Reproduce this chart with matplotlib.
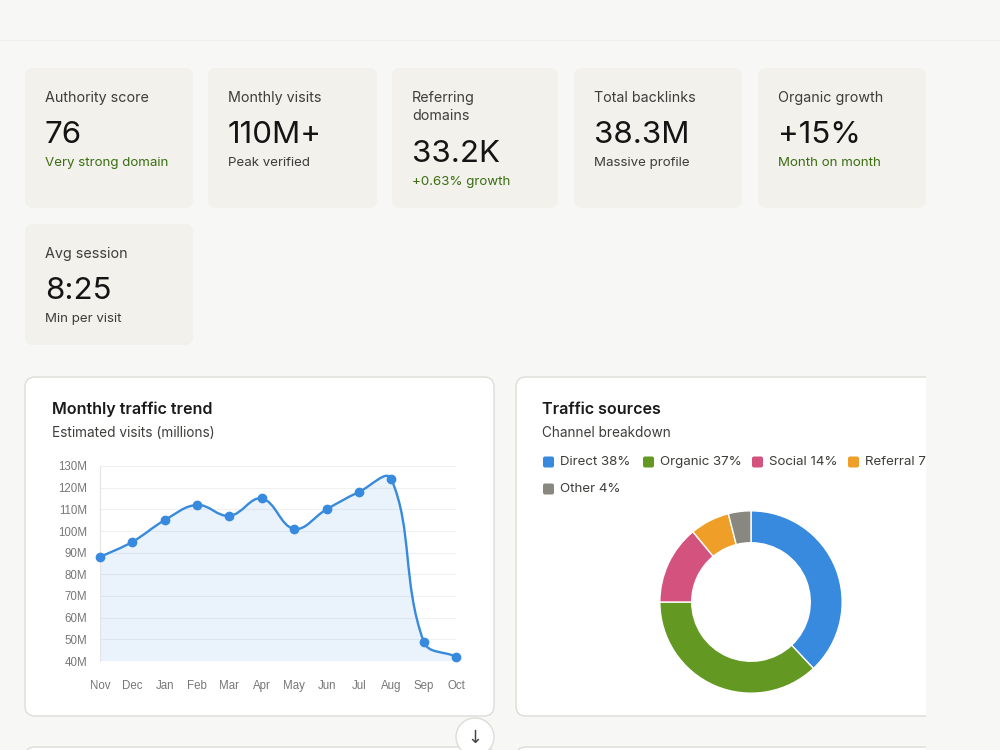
import numpy as np
import matplotlib
matplotlib.use("Agg")
import matplotlib.pyplot as plt
from matplotlib.patches import FancyBboxPatch, Rectangle, Circle, PathPatch
from matplotlib.path import Path

plt.rcParams['font.family'] = ['Inter', 'DejaVu Sans']

# ---- data ----
kpi_titles = ["Authority score", "Monthly visits", "Referring\ndomains", "Total backlinks",
              "Organic growth", "Avg session"]
kpi_values = ["76", "110M+", "33.2K", "38.3M", "+15%", "8:25"]
kpi_notes = ["Very strong domain", "Peak verified", "+0.63% growth", "Massive profile",
             "Month on month", "Min per visit"]
kpi_good = [True, False, True, False, True, False]

months = ["Nov", "Dec", "Jan", "Feb", "Mar", "Apr", "May", "Jun", "Jul", "Aug", "Sep", "Oct"]
visits = [88, 95, 105, 112, 107, 115, 101, 110, 118, 124, 49, 42]   # millions
y_ticks = [40, 50, 60, 70, 80, 90, 100, 110, 120, 130]

channels = ["Direct", "Organic", "Social", "Referral", "Other"]
shares = [38, 37, 14, 7, 4]
chan_colors = ["#378ADD", "#639922", "#D4537E", "#EF9F27", "#888780"]

BG = "#f7f7f5"
CARD = "#f2f1ec"
GREEN = "#3b6d11"
BLUE = "#378ADD"

fig = plt.figure(figsize=(10, 7.5), dpi=100, facecolor=BG)
bg = fig.add_axes([0, 0, 1, 1])
bg.set_xlim(0, 1000)
bg.set_ylim(750, 0)
bg.axis("off")
bg.set_facecolor(BG)

# viewport clip (content cut at the right)
clip = Rectangle((0, 0), 926, 750, transform=bg.transData, visible=False)
bg.add_patch(clip)

bg.plot([0, 1000], [40, 40], color="#efefeb", lw=0.8)


def card(x0, y0, x1, y1, fc, ec="none", r=8, lw=0.0):
    p = FancyBboxPatch((x0, y0), x1 - x0, y1 - y0, boxstyle=f"round,pad=0,rounding_size={r}",
                       fc=fc, ec=ec, lw=lw, transform=bg.transData)
    bg.add_patch(p)
    p.set_clip_path(clip)
    return p


# ---- KPI cards ----
card_x = [(25, 193), (208, 377), (392, 558), (574, 742), (758, 926), (25, 193)]
card_y = [(68, 208)] * 5 + [(224, 345)]
for i in range(6):
    (x0, x1), (y0, y1) = card_x[i], card_y[i]
    card(x0, y0, x1, y1, CARD)
    tx = x0 + 20
    shift = 19 if "\n" in kpi_titles[i] else 0
    bg.text(tx, y0 + 23, kpi_titles[i], fontsize=10.3, color="#3d3d3a", va="top",
            linespacing=1.4)
    bg.text(tx, y0 + 67 + shift, kpi_values[i], fontsize=22.5, color="#141414", va="center")
    bg.text(tx, y0 + 95 + shift, kpi_notes[i], fontsize=9.6, va="center",
            color=GREEN if kpi_good[i] else "#3d3d3a")

# ---- chart cards ----
card(25, 377, 494, 716, "white", ec="#dcdcd8", r=10, lw=1.0)
card(516, 377, 960, 716, "white", ec="#dcdcd8", r=10, lw=1.0)
card(25, 747, 494, 800, "white", ec="#dcdcd8", r=10, lw=1.0)
card(516, 747, 960, 800, "white", ec="#dcdcd8", r=10, lw=1.0)

bg.text(52, 409, "Monthly traffic trend", fontsize=11.6, fontweight="semibold",
        color="#1a1a1a", va="center")
bg.text(52, 433, "Estimated visits (millions)", fontsize=9.8, color="#3d3d3a", va="center")
bg.text(542, 409, "Traffic sources", fontsize=11.6, fontweight="semibold",
        color="#1a1a1a", va="center")
bg.text(542, 433, "Channel breakdown", fontsize=9.8, color="#3d3d3a", va="center")

# legend
leg_pos = [(543, 462), (643, 462), (752, 462), (848, 462), (543, 489)]
for (lx, ly), name, val, c in zip(leg_pos, channels, shares, chan_colors):
    sq = FancyBboxPatch((lx, ly - 5.5), 11, 11, boxstyle="round,pad=0,rounding_size=2",
                        fc=c, ec="none", transform=bg.transData)
    bg.add_patch(sq)
    t = bg.text(lx + 17, ly, f"{name} {val}%", fontsize=9.6, color="#3d3d3a", va="center",
                clip_on=True)
    t.set_clip_path(clip)

# ---- line chart ----
ax = fig.add_axes([100 / 1000, 1 - 661 / 750, 356 / 1000, 195 / 750])
ax.set_xlim(0, len(months) - 1)
ax.set_ylim(40, 130)
ax.set_facecolor("none")
for s in ["top", "right", "bottom"]:
    ax.spines[s].set_visible(False)
ax.spines["left"].set_color("#e4e4e4")
ax.set_yticks(y_ticks)
ax.set_yticklabels([f"{v}M" for v in y_ticks])
ax.set_xticks(range(len(months)))
ax.set_xticklabels(months)
ax.tick_params(axis="y", length=0, pad=9, labelsize=8.3, labelcolor="#777777")
ax.tick_params(axis="x", length=0, pad=14, labelsize=8.3, labelcolor="#777777")
for lab in ax.get_xticklabels() + ax.get_yticklabels():
    lab.set_fontfamily(["Liberation Sans", "DejaVu Sans"])
ax.grid(axis="y", color="#f0f0f0", lw=0.8)
ax.set_axisbelow(True)

# Chart.js style spline (tension 0.4) computed in screen space
pts = ax.transData.transform(np.column_stack([np.arange(len(visits)), visits]))
n = len(pts)
cp_prev = np.zeros_like(pts)
cp_next = np.zeros_like(pts)
t = 0.4
for i in range(n):
    prv = pts[i - 1] if i > 0 else pts[i]
    cur = pts[i]
    nxt = pts[i + 1] if i < n - 1 else pts[i]
    d01 = np.hypot(*(cur - prv))
    d12 = np.hypot(*(nxt - cur))
    tot = d01 + d12
    s01 = d01 / tot if tot else 0
    s12 = d12 / tot if tot else 0
    cp_prev[i] = cur - t * s01 * (nxt - prv)
    cp_next[i] = cur + t * s12 * (nxt - prv)
inv = ax.transData.inverted()
pts_d = inv.transform(pts)
cpp_d = inv.transform(cp_prev)
cpn_d = inv.transform(cp_next)
cpp_d[:, 1] = np.clip(cpp_d[:, 1], 40, 130)
cpn_d[:, 1] = np.clip(cpn_d[:, 1], 40, 130)

verts = [pts_d[0]]
codes = [Path.MOVETO]
for i in range(n - 1):
    verts += [cpn_d[i], cpp_d[i + 1], pts_d[i + 1]]
    codes += [Path.CURVE4] * 3
line_path = Path(verts, codes)
fill_path = Path(verts + [(n - 1, 40), (0, 40), pts_d[0]],
                 codes + [Path.LINETO, Path.LINETO, Path.CLOSEPOLY])
ax.add_patch(PathPatch(fill_path, fc=BLUE, alpha=0.1, ec="none"))
ax.add_patch(PathPatch(line_path, fc="none", ec=BLUE, lw=1.7, clip_on=False))
ax.plot(range(n), visits, "o", color=BLUE, ms=6, clip_on=False, zorder=5)

# ---- donut ----
cx, cy, r = 751, 602, 93
dax = fig.add_axes([(cx - r) / 1000, 1 - (cy + r) / 750, 2 * r / 1000, 2 * r / 750])
dax.pie(shares, colors=chan_colors, startangle=90, counterclock=False, radius=1,
        wedgeprops=dict(width=0.35, edgecolor="white", linewidth=1))
dax.set_xlim(-1.02, 1.02)
dax.set_ylim(-1.02, 1.02)
dax.axis("off")

# right side outside viewport
bg.add_patch(Rectangle((926, 41), 74, 709, fc=BG, ec="none", zorder=0.5))

# scroll button
bg.add_patch(Circle((475, 737), 19, fc="white", ec="#dcdcd8", lw=1.0, zorder=6))
bg.text(475, 738, "\u2193", fontsize=13, color="#444441", ha="center", va="center",
        family=["DejaVu Sans"], zorder=7)

fig.savefig("out.png", dpi=100, facecolor=BG)
